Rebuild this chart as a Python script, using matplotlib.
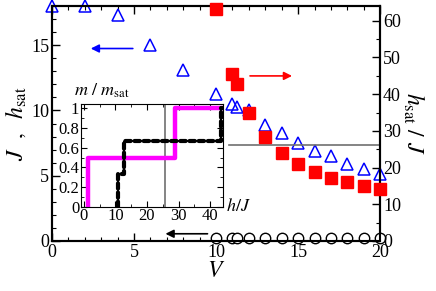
import matplotlib
matplotlib.use("Agg")
import matplotlib.pyplot as plt
from matplotlib.ticker import MultipleLocator

plt.rcParams['font.family'] = ['Liberation Serif', 'DejaVu Serif']
plt.rcParams['mathtext.fontset'] = 'stix'

# Triangles: J-axis (left) values
tri_V = [0, 2, 4, 6, 8, 10, 11, 11.25, 12, 13, 14, 15, 16, 17, 18, 19, 20]
tri_J = [18.0, 18.0, 17.3, 15.0, 13.1, 11.3, 10.5, 10.3, 10.0, 8.9, 8.3, 7.5, 6.9, 6.5, 5.9, 5.5, 5.15]
# Squares: h_sat / J (right axis)
sq_V = [10, 11, 11.25, 12, 13, 14, 15, 16, 17, 18, 19, 20]
sq_h = [63.2, 45.5, 42.8, 34.9, 28.3, 23.9, 21.0, 18.8, 17.2, 16.0, 15.1, 14.2]
# Circles: J (left axis)
ci_V = [10, 11, 11.25, 12, 13, 14, 15, 16, 17, 18, 19, 20]
ci_J = [0.2] * 12
# gray reference line on right axis
ref_h = 26.1
ref_V = [10.8, 20]

# Inset magnetization curves
mag_h = [1.2, 1.2, 28.8, 28.8, 44]
mag_m = [0, 0.5, 0.5, 1.0, 1.0]
blk_h = [10.9, 10.9, 12.7, 12.7, 43.4, 43.4, 44]
blk_m = [0, 1/3, 1/3, 2/3, 2/3, 1.0, 1.0]
inset_ref_h = 25.7

fig = plt.figure(figsize=(4.36, 2.91), dpi=100)
ax = fig.add_axes([0.119, 0.172, 0.753, 0.807])
ax2 = ax.twinx()

ax.set_xlim(0, 20)
ax.set_ylim(0, 18)
ax2.set_ylim(0, 64)

ax2.plot(ref_V, [ref_h, ref_h], color='#707070', lw=1.2, zorder=1)
ax.plot(tri_V, tri_J, ls='none', marker='^', ms=8.5, mfc='none', mec='#0000ff', mew=1.1, clip_on=False, zorder=5)
ax.plot(ci_V, ci_J, ls='none', marker='o', ms=7.5, mfc='white', mec='black', mew=1.0, clip_on=False, zorder=5)
ax2.plot(sq_V, sq_h, ls='none', marker='s', ms=8, mfc='#ff0000', mec='#ff0000', clip_on=False, zorder=5)

ax.xaxis.set_major_locator(MultipleLocator(5))
ax.xaxis.set_minor_locator(MultipleLocator(1))
ax.yaxis.set_major_locator(MultipleLocator(5))
ax.yaxis.set_minor_locator(MultipleLocator(1))
ax2.yaxis.set_major_locator(MultipleLocator(10))
ax2.yaxis.set_minor_locator(MultipleLocator(5))
ax.tick_params(which='both', direction='in', top=True, right=False, labelsize=13, pad=2)
ax.tick_params(which='major', length=6, width=1)
ax.tick_params(which='minor', length=3, width=0.8)
ax2.tick_params(which='both', direction='in', labelsize=13, pad=2)
ax2.tick_params(which='major', length=6, width=1)
ax2.tick_params(which='minor', length=3, width=0.8)
for a in (ax, ax2):
    for s in a.spines.values():
        s.set_linewidth(1.5)

ax.set_xlabel(r'$V$', fontsize=17, labelpad=0)
ax.set_ylabel(r'$J\ \ ,\ \ h_{\rm sat}$', fontsize=17, labelpad=2)
ax2.set_ylabel(r'$h_{\rm sat}\ /\ J$', fontsize=17, rotation=270, labelpad=18)

# arrows
ax.annotate('', xy=(2.2, 14.75), xytext=(5.1, 14.75),
            arrowprops=dict(arrowstyle='-|>', color='#0000ff', lw=1.2, mutation_scale=12))
ax.annotate('', xy=(14.8, 12.65), xytext=(11.9, 12.65),
            arrowprops=dict(arrowstyle='-|>', color='#ff0000', lw=1.2, mutation_scale=12))
ax.annotate('', xy=(6.75, 0.55), xytext=(9.65, 0.55),
            arrowprops=dict(arrowstyle='-|>', color='black', lw=1.2, mutation_scale=12))

# inset
ins = fig.add_axes([0.185, 0.289, 0.326, 0.353])
ins.set_xlim(-1, 44)
ins.set_ylim(0, 1.04)
ins.axvline(inset_ref_h, color='#707070', lw=1.2)
ins.plot(mag_h, mag_m, color='#ff00ff', lw=3.2, solid_capstyle='butt')
ins.plot(blk_h, blk_m, color='black', lw=3.0, ls=(0, (1.3, 0.9)), dash_capstyle='round')
ins.xaxis.set_major_locator(MultipleLocator(10))
ins.xaxis.set_minor_locator(MultipleLocator(5))
ins.yaxis.set_major_locator(MultipleLocator(0.2))
ins.yaxis.set_minor_locator(MultipleLocator(0.1))
ins.tick_params(which='both', direction='in', top=True, right=True, labelsize=12, pad=1)
ins.tick_params(which='major', length=4)
ins.tick_params(which='minor', length=2)
ins.set_yticks([0, 0.2, 0.4, 0.6, 0.8, 1.0])
ins.set_yticklabels(['0', '0.2', '0.4', '0.6', '0.8', '1'])
ins.text(-0.05, 1.04, r'$m\ /\ m_{\rm sat}$', transform=ins.transAxes, fontsize=13, ha='left', va='bottom')
ins.text(1.02, 0.0, r'$h/J$', transform=ins.transAxes, fontsize=13, ha='left', va='center')

fig.savefig('out.png', dpi=100)
